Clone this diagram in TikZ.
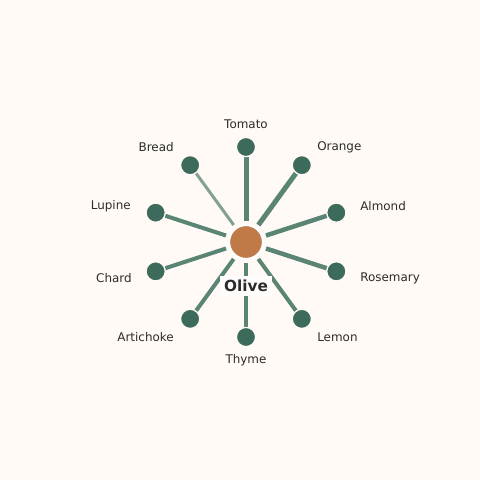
\documentclass[tikz,border=0pt]{standalone}
\usepackage{fontspec}
\setmainfont{DejaVu Sans}
\usetikzlibrary{calc}
\definecolor{bg}{HTML}{FFFAF6}
\definecolor{edgec}{HTML}{5A8473}
\definecolor{nodec}{HTML}{3D6B5B}
\definecolor{centc}{HTML}{C07A48}
\definecolor{txt}{HTML}{2B2B2B}
\tikzset{
  leaf/.style={circle,fill=nodec,draw=bg,line width=0.9pt,minimum size=13.8pt,inner sep=0pt},
  hub/.style={circle,fill=centc,draw=white,line width=1.6pt,minimum size=24.5pt,inner sep=0pt},
  lab/.style={font=\fontsize{8.6}{10.5}\selectfont,text=txt,inner sep=0pt},
  spoke/.style={draw=edgec,line cap=butt},
}
\begin{document}
\begin{tikzpicture}[x=0.72pt,y=-0.72pt]
\fill[bg] (0,0) rectangle (480,480);
\useasboundingbox (0,0) rectangle (480,480);
\coordinate (c) at (246,242);
\foreach \n/\a/\w/\o in {Tomato/90/5/1, Orange/54/5/1, Almond/18/4.5/1, Rosemary/-18/4.5/1, Lemon/-54/4/1, Thyme/-90/4/1, Artichoke/-126/4/1, Chard/-162/4/1, Lupine/162/4/1, Bread/126/3/0.75}{
  \coordinate (\n) at ($(c)+({95*cos(\a)},{-95*sin(\a)})$);
  \coordinate (s\n) at ($(c)+({21*cos(\a)},{-21*sin(\a)})$);
  \coordinate (e\n) at ($(c)+({85*cos(\a)},{-85*sin(\a)})$);
  \draw[spoke,line width=\w*0.72pt,draw opacity=\o] (s\n) -- (e\n);
}
\foreach \n in {Tomato,Orange,Almond,Rosemary,Lemon,Thyme,Artichoke,Chard,Lupine,Bread}{
  \node[leaf] (n\n) at (\n) {};
}
\node[hub] (hub) at (c) {};
\node[fill=bg!40!white,inner xsep=3pt,inner ysep=3pt,font=\bfseries\fontsize{11}{13}\selectfont,text=txt] (olive) at (246,286) {Olive};
\node[lab] (lTomato) at (246,124) {Tomato};
\node[lab,anchor=west] (lOrange) at (317,147) {Orange};
\node[lab,anchor=west] (lAlmond) at (360,206) {Almond};
\node[lab,anchor=west] (lRosemary) at (360,278) {Rosemary};
\node[lab,anchor=west] (lLemon) at (317,337) {Lemon};
\node[lab] (lThyme) at (246,360) {Thyme};
\node[lab,anchor=east] (lArtichoke) at (174,337) {Artichoke};
\node[lab,anchor=east] (lChard) at (132,278) {Chard};
\node[lab,anchor=east] (lLupine) at (131,206) {Lupine};
\node[lab,anchor=east] (lBread) at (174,147) {Bread};
\end{tikzpicture}
\end{document}
